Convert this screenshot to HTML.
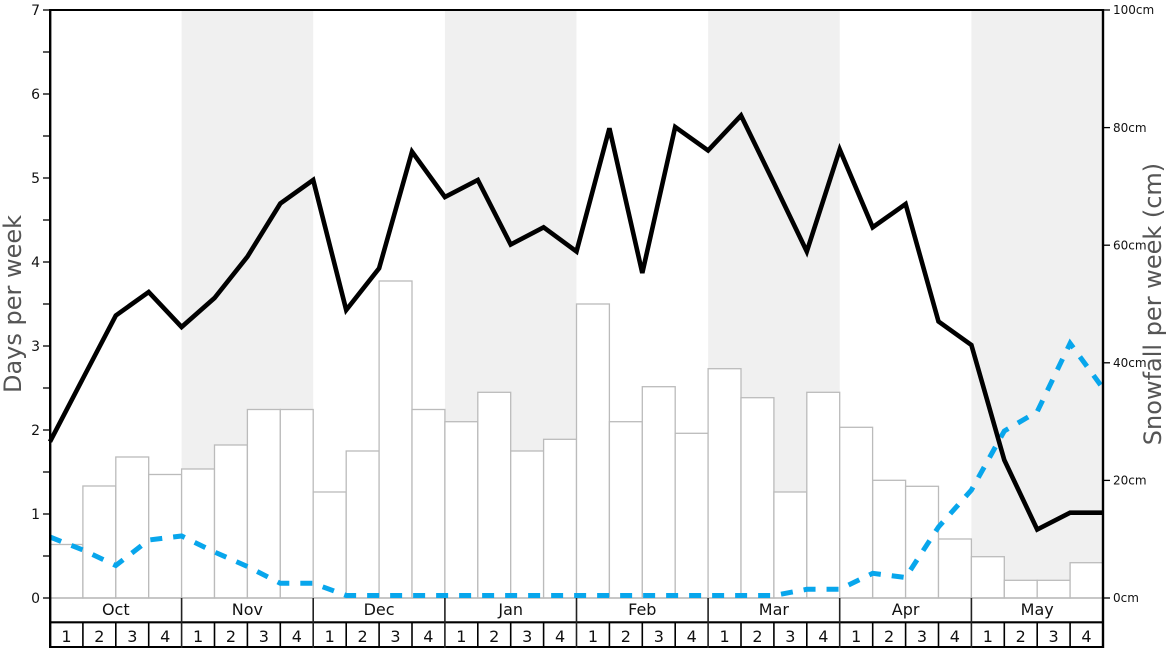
<!DOCTYPE html>
<html><head><meta charset="utf-8"><style>
html,body{margin:0;padding:0;background:#fff;}
svg{display:block;font-family:"DejaVu Sans","Liberation Sans",sans-serif;}
</style></head><body>
<svg width="1168" height="648" viewBox="0 0 1168 648" xmlns="http://www.w3.org/2000/svg">
<rect x="0" y="0" width="1168" height="648" fill="#fff"/>
<!-- shaded months -->
<g fill="#f0f0f0">
<rect x="181.6" y="10" width="131.6" height="588"/>
<rect x="444.9" y="10" width="131.6" height="588"/>
<rect x="708.1" y="10" width="131.6" height="588"/>
<rect x="971.4" y="10" width="131.6" height="588"/>
</g>
<!-- bars -->
<g fill="#fff" stroke="#bbb" stroke-width="1.3">
<rect x="50.0" y="544.5" width="32.9" height="53.5"/>
<rect x="82.9" y="486" width="32.9" height="112"/>
<rect x="115.8" y="457" width="32.9" height="141"/>
<rect x="148.7" y="474.5" width="32.9" height="123.5"/>
<rect x="181.6" y="469" width="32.9" height="129"/>
<rect x="214.5" y="445" width="32.9" height="153"/>
<rect x="247.4" y="409.5" width="32.9" height="188.5"/>
<rect x="280.3" y="409.5" width="32.9" height="188.5"/>
<rect x="313.2" y="492" width="32.9" height="106"/>
<rect x="346.2" y="451" width="32.9" height="147"/>
<rect x="379.1" y="281" width="32.9" height="317"/>
<rect x="412.0" y="409.5" width="32.9" height="188.5"/>
<rect x="444.9" y="421.7" width="32.9" height="176.3"/>
<rect x="477.8" y="392.3" width="32.9" height="205.7"/>
<rect x="510.7" y="451" width="32.9" height="147"/>
<rect x="543.6" y="439.3" width="32.9" height="158.7"/>
<rect x="576.5" y="304" width="32.9" height="294"/>
<rect x="609.4" y="421.7" width="32.9" height="176.3"/>
<rect x="642.3" y="386.7" width="32.9" height="211.3"/>
<rect x="675.2" y="433.3" width="32.9" height="164.7"/>
<rect x="708.1" y="368.7" width="32.9" height="229.3"/>
<rect x="741.0" y="397.7" width="32.9" height="200.3"/>
<rect x="773.9" y="492" width="32.9" height="106"/>
<rect x="806.8" y="392.3" width="32.9" height="205.7"/>
<rect x="839.7" y="427.3" width="32.9" height="170.7"/>
<rect x="872.7" y="480.3" width="32.9" height="117.7"/>
<rect x="905.6" y="486.3" width="32.9" height="111.7"/>
<rect x="938.5" y="539" width="32.9" height="59"/>
<rect x="971.4" y="556.7" width="32.9" height="41.3"/>
<rect x="1004.3" y="580.3" width="32.9" height="17.7"/>
<rect x="1037.2" y="580.3" width="32.9" height="17.7"/>
<rect x="1070.1" y="562.7" width="32.9" height="35.3"/>
</g>
<line x1="50" y1="598" x2="1103" y2="598" stroke="#bbb" stroke-width="1.5"/>
<!-- blue dashed line -->
<polyline fill="none" stroke="#08a6ec" stroke-width="5" stroke-dasharray="12 11" points="50,537 82.9,550 115.8,565.5 148.7,540 181.6,536 214.5,552 247.4,566.5 280.3,583.3 313.2,583.3 346.2,595.5 379.1,595.5 412,595.5 444.9,595.5 477.8,595.5 510.7,595.5 543.6,595.5 576.5,595.5 609.4,595.5 642.3,595.5 675.2,595.5 708.1,595.5 741,595.5 773.9,595.5 806.8,589.3 839.7,589.3 872.7,573.3 905.6,577.5 938.5,527 971.4,490 1004.3,431 1037.2,411.7 1070.1,343.3 1103,388.3"/>
<!-- black line -->
<polyline fill="none" stroke="#000" stroke-width="4.6" stroke-linejoin="miter" points="50,441.7 82.9,378.5 115.8,315.5 148.7,292 181.6,327 214.5,298 247.4,256.7 280.3,203.5 313.2,180 346.2,310 379.1,268.3 412,151.7 444.9,197 477.8,180 510.7,244.5 543.6,227.3 576.5,251.5 609.4,128.3 642.3,273 675.2,127 708.1,150.5 741,115.5 773.9,183 806.8,251.5 839.7,149.5 872.7,227.3 905.6,204 938.5,321.5 971.4,345 1004.3,460 1037.2,529.5 1070.1,512.7 1103,512.7"/>
<!-- frame -->
<line x1="49" y1="10" x2="1104" y2="10" stroke="#000" stroke-width="2"/>
<line x1="50.2" y1="9" x2="50.2" y2="648" stroke="#000" stroke-width="2.4"/>
<line x1="1103" y1="9" x2="1103" y2="648" stroke="#000" stroke-width="2.4"/>
<!-- left ticks -->
<g stroke="#000" stroke-width="1.3">
<line x1="43" y1="598" x2="50" y2="598"/><line x1="43" y1="556" x2="50" y2="556"/>
<line x1="43" y1="514" x2="50" y2="514"/><line x1="43" y1="472" x2="50" y2="472"/>
<line x1="43" y1="430" x2="50" y2="430"/><line x1="43" y1="388" x2="50" y2="388"/>
<line x1="43" y1="346" x2="50" y2="346"/><line x1="43" y1="304" x2="50" y2="304"/>
<line x1="43" y1="262" x2="50" y2="262"/><line x1="43" y1="220" x2="50" y2="220"/>
<line x1="43" y1="178" x2="50" y2="178"/><line x1="43" y1="136" x2="50" y2="136"/>
<line x1="43" y1="94" x2="50" y2="94"/><line x1="43" y1="52" x2="50" y2="52"/>
<line x1="43" y1="10" x2="50" y2="10"/>
</g>
<g font-size="14" fill="#111" text-anchor="end">
<text x="40" y="603">0</text><text x="40" y="519">1</text><text x="40" y="435">2</text>
<text x="40" y="351">3</text><text x="40" y="267">4</text><text x="40" y="183">5</text>
<text x="40" y="99">6</text><text x="40" y="15">7</text>
</g>
<!-- right ticks -->
<g stroke="#000" stroke-width="1.3">
<line x1="1103" y1="598" x2="1110" y2="598"/><line x1="1103" y1="480.4" x2="1110" y2="480.4"/>
<line x1="1103" y1="362.8" x2="1110" y2="362.8"/><line x1="1103" y1="245.2" x2="1110" y2="245.2"/>
<line x1="1103" y1="127.6" x2="1110" y2="127.6"/><line x1="1103" y1="10" x2="1110" y2="10"/>
</g>
<g font-size="12" fill="#111">
<text x="1113" y="602">0cm</text><text x="1113" y="484.5">20cm</text>
<text x="1113" y="367">40cm</text><text x="1113" y="249.5">60cm</text>
<text x="1113" y="132">80cm</text><text x="1113" y="14">100cm</text>
</g>
<!-- axis titles -->
<text transform="translate(21,304) rotate(-90)" text-anchor="middle" font-size="24" fill="#555">Days per week</text>
<text transform="translate(1161,304) rotate(-90)" text-anchor="middle" font-size="24" fill="#555">Snowfall per week (cm)</text>
<!-- month row -->
<line x1="50" y1="622.3" x2="1103" y2="622.3" stroke="#000" stroke-width="2.2"/>
<line x1="50" y1="647" x2="1103" y2="647" stroke="#000" stroke-width="2"/>
<g stroke="#222" stroke-width="1.6">
<line x1="181.6" y1="598" x2="181.6" y2="648"/><line x1="313.2" y1="598" x2="313.2" y2="648"/>
<line x1="444.9" y1="598" x2="444.9" y2="648"/><line x1="576.5" y1="598" x2="576.5" y2="648"/>
<line x1="708.1" y1="598" x2="708.1" y2="648"/><line x1="839.7" y1="598" x2="839.7" y2="648"/>
<line x1="971.4" y1="598" x2="971.4" y2="648"/>
</g>
<g stroke="#000" stroke-width="1.6">
<line x1="82.9" y1="622" x2="82.9" y2="648"/><line x1="115.8" y1="622" x2="115.8" y2="648"/><line x1="148.7" y1="622" x2="148.7" y2="648"/>
<line x1="214.5" y1="622" x2="214.5" y2="648"/><line x1="247.4" y1="622" x2="247.4" y2="648"/><line x1="280.3" y1="622" x2="280.3" y2="648"/>
<line x1="346.2" y1="622" x2="346.2" y2="648"/><line x1="379.1" y1="622" x2="379.1" y2="648"/><line x1="412" y1="622" x2="412" y2="648"/>
<line x1="477.8" y1="622" x2="477.8" y2="648"/><line x1="510.7" y1="622" x2="510.7" y2="648"/><line x1="543.6" y1="622" x2="543.6" y2="648"/>
<line x1="609.4" y1="622" x2="609.4" y2="648"/><line x1="642.3" y1="622" x2="642.3" y2="648"/><line x1="675.2" y1="622" x2="675.2" y2="648"/>
<line x1="741" y1="622" x2="741" y2="648"/><line x1="773.9" y1="622" x2="773.9" y2="648"/><line x1="806.8" y1="622" x2="806.8" y2="648"/>
<line x1="872.7" y1="622" x2="872.7" y2="648"/><line x1="905.6" y1="622" x2="905.6" y2="648"/><line x1="938.5" y1="622" x2="938.5" y2="648"/>
<line x1="1004.3" y1="622" x2="1004.3" y2="648"/><line x1="1037.2" y1="622" x2="1037.2" y2="648"/><line x1="1070.1" y1="622" x2="1070.1" y2="648"/>
</g>
<g font-size="16" fill="#111" text-anchor="middle">
<text x="115.8" y="615">Oct</text><text x="247.4" y="615">Nov</text><text x="379.1" y="615">Dec</text>
<text x="510.7" y="615">Jan</text><text x="642.3" y="615">Feb</text><text x="773.9" y="615">Mar</text>
<text x="905.6" y="615">Apr</text><text x="1037.2" y="615">May</text>
</g>
<g font-size="16" fill="#111" text-anchor="middle">
<text x="66.5" y="642">1</text><text x="99.4" y="642">2</text><text x="132.3" y="642">3</text><text x="165.2" y="642">4</text>
<text x="198.1" y="642">1</text><text x="231" y="642">2</text><text x="263.9" y="642">3</text><text x="296.8" y="642">4</text>
<text x="329.7" y="642">1</text><text x="362.6" y="642">2</text><text x="395.5" y="642">3</text><text x="428.4" y="642">4</text>
<text x="461.3" y="642">1</text><text x="494.2" y="642">2</text><text x="527.2" y="642">3</text><text x="560.1" y="642">4</text>
<text x="593" y="642">1</text><text x="625.9" y="642">2</text><text x="658.8" y="642">3</text><text x="691.7" y="642">4</text>
<text x="724.6" y="642">1</text><text x="757.5" y="642">2</text><text x="790.4" y="642">3</text><text x="823.3" y="642">4</text>
<text x="856.2" y="642">1</text><text x="889.1" y="642">2</text><text x="922" y="642">3</text><text x="954.9" y="642">4</text>
<text x="987.8" y="642">1</text><text x="1020.7" y="642">2</text><text x="1053.6" y="642">3</text><text x="1086.5" y="642">4</text>
</g>
</svg>
</body></html>
